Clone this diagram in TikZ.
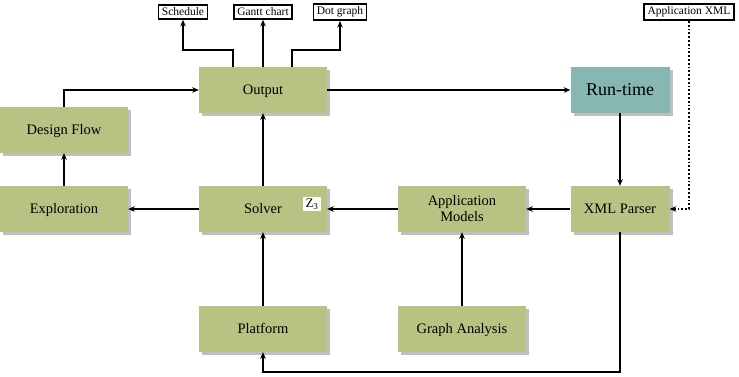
\documentclass[tikz,border=0pt]{standalone}
\usepackage{fontspec}
\setmainfont{Liberation Serif}
\usetikzlibrary{arrows.meta,shadows,calc}
\definecolor{olive}{RGB}{183,195,130}
\definecolor{teal}{RGB}{134,183,176}
\tikzset{
  block/.style={fill=olive, minimum width=128pt, minimum height=46pt, inner sep=0pt,
    align=center, font=\fontsize{14.5}{16}\selectfont,
    drop shadow={shadow xshift=3pt, shadow yshift=-3pt, fill=black!50}},
  oneline/.style={text height=10pt, text depth=1pt},
  narrow/.style={block, minimum width=99pt},
  outbox/.style={draw, line width=1.6pt, fill=white, inner xsep=3.5pt, inner ysep=3pt,
    font=\fontsize{11.5}{12}\selectfont},
  conn/.style={line width=1.8pt, -{Stealth[length=6.5pt,width=5.5pt,inset=2pt]}},
}
\begin{document}
\begin{tikzpicture}[x=1pt,y=-1pt]
\useasboundingbox (0,0) rectangle (739,376);
% main processing blocks
\node[block, oneline] (out) at (263,90) {Output};
\node[narrow, fill=teal, font=\fontsize{18}{19}\selectfont, text height=12pt, text depth=1pt] (rt) at (620,90) {Run-time};
\node[block, oneline] (df) at (64,130) {Design Flow};
\node[block, oneline] (exp) at (64,209) {Exploration};
\node[block, oneline] (sol) at (263,209) {Solver};
\node[block] (am) at (462,209) {Application\\Models};
\node[narrow, oneline] (xml) at (620,209) {XML Parser};
\node[block, oneline] (plat) at (263,329) {Platform};
\node[block, oneline] (ga) at (462,329) {Graph Analysis};
\node[fill=white, inner xsep=2.5pt, inner ysep=2pt, font=\fontsize{13}{14}\selectfont] (z3) at (312,204) {Z\textsubscript{3}};
% produced artefacts and input file
\node[outbox] (sched) at (183,12) {Schedule};
\node[outbox] (gantt) at (263,12) {Gantt chart};
\node[outbox] (dot) at (340,12) {Dot graph};
\node[outbox] (axml) at (689,12) {Application XML};
% flow of the tool chain
\draw[conn] (out) -- (rt);
\draw[conn] (rt) -- (xml);
\draw[conn] (xml) -- (am);
\draw[conn] (am) -- (sol);
\draw[conn] (sol) -- (exp);
\draw[conn] (exp) -- (df);
\draw[conn] (df.north) |- (out.west);
\draw[conn] (sol) -- (out);
\draw[conn] (plat) -- (sol);
\draw[conn] (ga) -- (am);
\draw[conn] (xml.south) -- ++(0,140) -| (plat.south);
\draw[conn, dotted] (axml.south) |- (xml.east);
\draw[conn] ([xshift=-30pt]out.north) -- ++(0,-17) -| (sched.south);
\draw[conn] (out.north) -- (gantt.south);
\draw[conn] ([xshift=29pt]out.north) -- ++(0,-17) -| (dot.south);
\end{tikzpicture}
\end{document}
